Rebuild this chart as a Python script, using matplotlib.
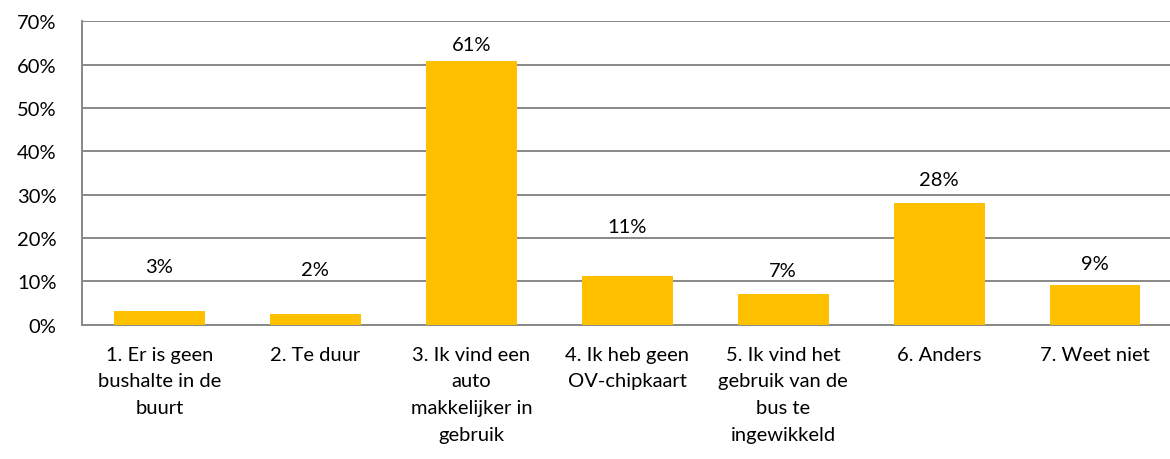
import matplotlib.pyplot as plt
import numpy as np

# Gegevens
categorieen = [
    "1. Er is geen\nbushalte in de\nbuurt",
    "2. Te duur",
    "3. Ik vind een\nauto\nmakkelijker in\ngebruik",
    "4. Ik heb geen\nOV-chipkaart",
    "5. Ik vind het\ngebruik van de\nbus te\ningewikkeld",
    "6. Anders",
    "7. Weet niet",
]
waarden = [3.1, 2.5, 60.9, 11.2, 7.0, 28.1, 9.2]
labels = ["3%", "2%", "61%", "11%", "7%", "28%", "9%"]
# afstand van label boven de balk (in punten), zoals in het origineel
label_afstand = [32, 32, 12, 36, 17, 17, 15]

plt.rcParams['font.family'] = ['Lato', 'DejaVu Sans']

fig = plt.figure(figsize=(11.7, 4.6), dpi=100)
ax = fig.add_axes([81.5 / 1170, 1 - 325.7 / 460, 1091.5 / 1170, 303.4 / 460])

x = np.arange(len(categorieen))
ax.bar(x, waarden, width=0.583, color='#FFC000', zorder=3)

for xi, v, lab, off in zip(x, waarden, labels, label_afstand):
    ax.annotate(lab, (xi, v), xytext=(0, off), textcoords='offset points',
                ha='center', va='center', fontsize=14.5, color='black')

ax.set_xlim(-0.5, len(categorieen) - 0.5)
ax.set_ylim(0, 70)
ax.set_yticks(range(0, 71, 10))
ax.set_yticklabels([f"{t}%" for t in range(0, 71, 10)], fontsize=14.5)
ax.set_xticks(x)
ax.set_xticklabels(categorieen, fontsize=14.5, linespacing=1.7, va='top')

ax.tick_params(axis='both', length=0, colors='black')
ax.tick_params(axis='x', pad=15)
ax.tick_params(axis='y', pad=18)

ax.grid(axis='y', color='#888888', linewidth=1.4, zorder=0)
for s in ['top', 'right']:
    ax.spines[s].set_visible(False)
for s in ['left', 'bottom']:
    ax.spines[s].set_color('#888888')
    ax.spines[s].set_linewidth(1.4)

plt.savefig('out.png', dpi=100)
